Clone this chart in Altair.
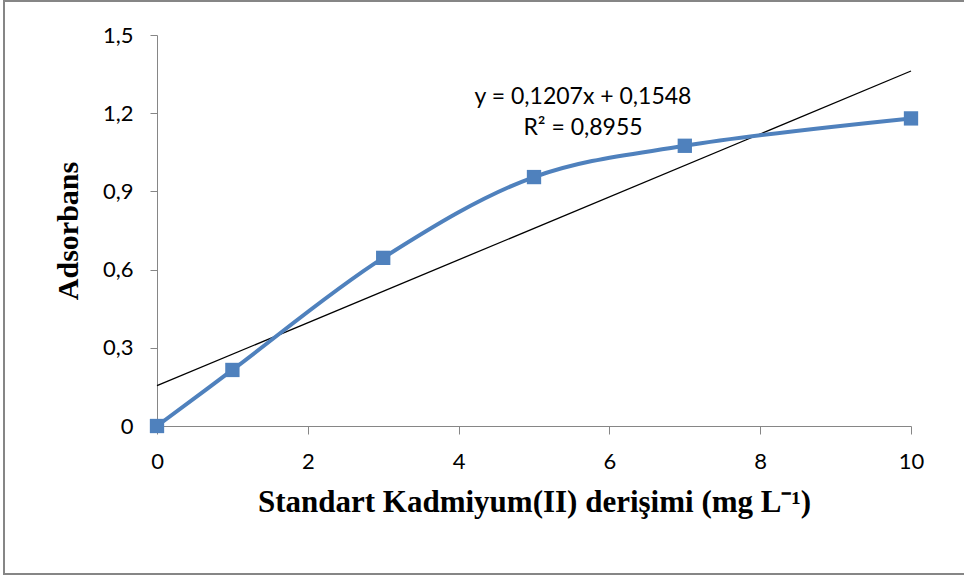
import altair as alt
import pandas as pd

# Calibration points: cadmium standard concentration vs absorbance
conc = [0, 1, 3, 5, 7, 10]
absorb = [0.0, 0.215, 0.645, 0.955, 1.075, 1.18]

# Linear trendline y = a*x + b and its fit statistic
slope = 0.1207
intercept = 0.1548
r2 = 0.8955
trend_x = [0, 10]

y_ticks = [0, 0.3, 0.6, 0.9, 1.2, 1.5]
x_ticks = [0, 2, 4, 6, 8, 10]

BLUE = "#4F81BD"
AXIS_GREY = "#868686"
NUM_FONT = "Lato"
TITLE_FONT = "Liberation Serif"

df = pd.DataFrame({"x": conc, "y": absorb})
trend = pd.DataFrame({"x": trend_x, "y": [slope * v + intercept for v in trend_x]})

def fmt(v, d):
    return f"{v:.{d}f}".replace(".", ",")

eq_df = pd.DataFrame({
    "x": [5.65, 5.65],
    "y": [1.262, 1.143],
    "t": [f"y = {fmt(slope, 4)}x + {fmt(intercept, 4)}", f"R² = {fmt(r2, 4)}"],
})

xs = alt.Scale(domain=[0, 10], nice=False, zero=False)
ys = alt.Scale(domain=[0, 1.5], nice=False)

x_axis = alt.Axis(
    values=x_ticks, title="Standart Kadmiyum(II) derişimi (mg L⁻¹)", format="d",
    grid=False, domainColor=AXIS_GREY, tickColor=AXIS_GREY, tickSize=8,
    labelFont=NUM_FONT, labelFontSize=22, labelColor="black", labelPadding=17,
    labelFlush=False,
    titleFont=TITLE_FONT, titleFontSize=31, titleFontWeight="bold",
    titleColor="black", titlePadding=15,
)
y_axis = alt.Axis(
    values=y_ticks, title="Adsorbans",
    labelExpr="replace(format(datum.value, '.1~f'), '.', ',')",
    grid=False, domainColor=AXIS_GREY, tickColor=AXIS_GREY, tickSize=7,
    labelFont=NUM_FONT, labelFontSize=22, labelColor="black", labelPadding=17,
    labelFlush=False,
    titleFont=TITLE_FONT, titleFontSize=30, titleFontWeight="bold",
    titleColor="black", titlePadding=19,
)

base = alt.Chart(df)

curve = base.mark_line(
    color=BLUE, strokeWidth=4, interpolate="catmull-rom", clip=False
).encode(
    x=alt.X("x:Q", scale=xs, axis=x_axis),
    y=alt.Y("y:Q", scale=ys, axis=y_axis),
)

points = base.mark_square(
    color=BLUE, size=205, opacity=1, clip=False
).encode(x=alt.X("x:Q", scale=xs), y=alt.Y("y:Q", scale=ys))

trend_line = alt.Chart(trend).mark_line(
    color="black", strokeWidth=1.3
).encode(x=alt.X("x:Q", scale=xs), y=alt.Y("y:Q", scale=ys))

eq_text = alt.Chart(eq_df).mark_text(
    font=NUM_FONT, fontSize=23, color="black", align="center", baseline="middle"
).encode(x=alt.X("x:Q", scale=xs), y=alt.Y("y:Q", scale=ys), text="t:N")

# outer chart frame
frame = alt.Chart(df).mark_rect(
    fill=None, stroke=AXIS_GREY, strokeWidth=2, clip=False
).encode(
    x=alt.value(-153), x2=alt.value(808),
    y=alt.value(-34), y2=alt.value(539),
)

chart = alt.layer(trend_line, curve, points, eq_text, frame).properties(
    width=754, height=391,
    padding={"left": 157, "top": 35, "right": 53, "bottom": 150},
    autosize=alt.AutoSizeParams(type="none"),
    background="white",
).configure_view(stroke=None)

chart.save("out.html", embed_options={"renderer": "svg", "actions": False})
